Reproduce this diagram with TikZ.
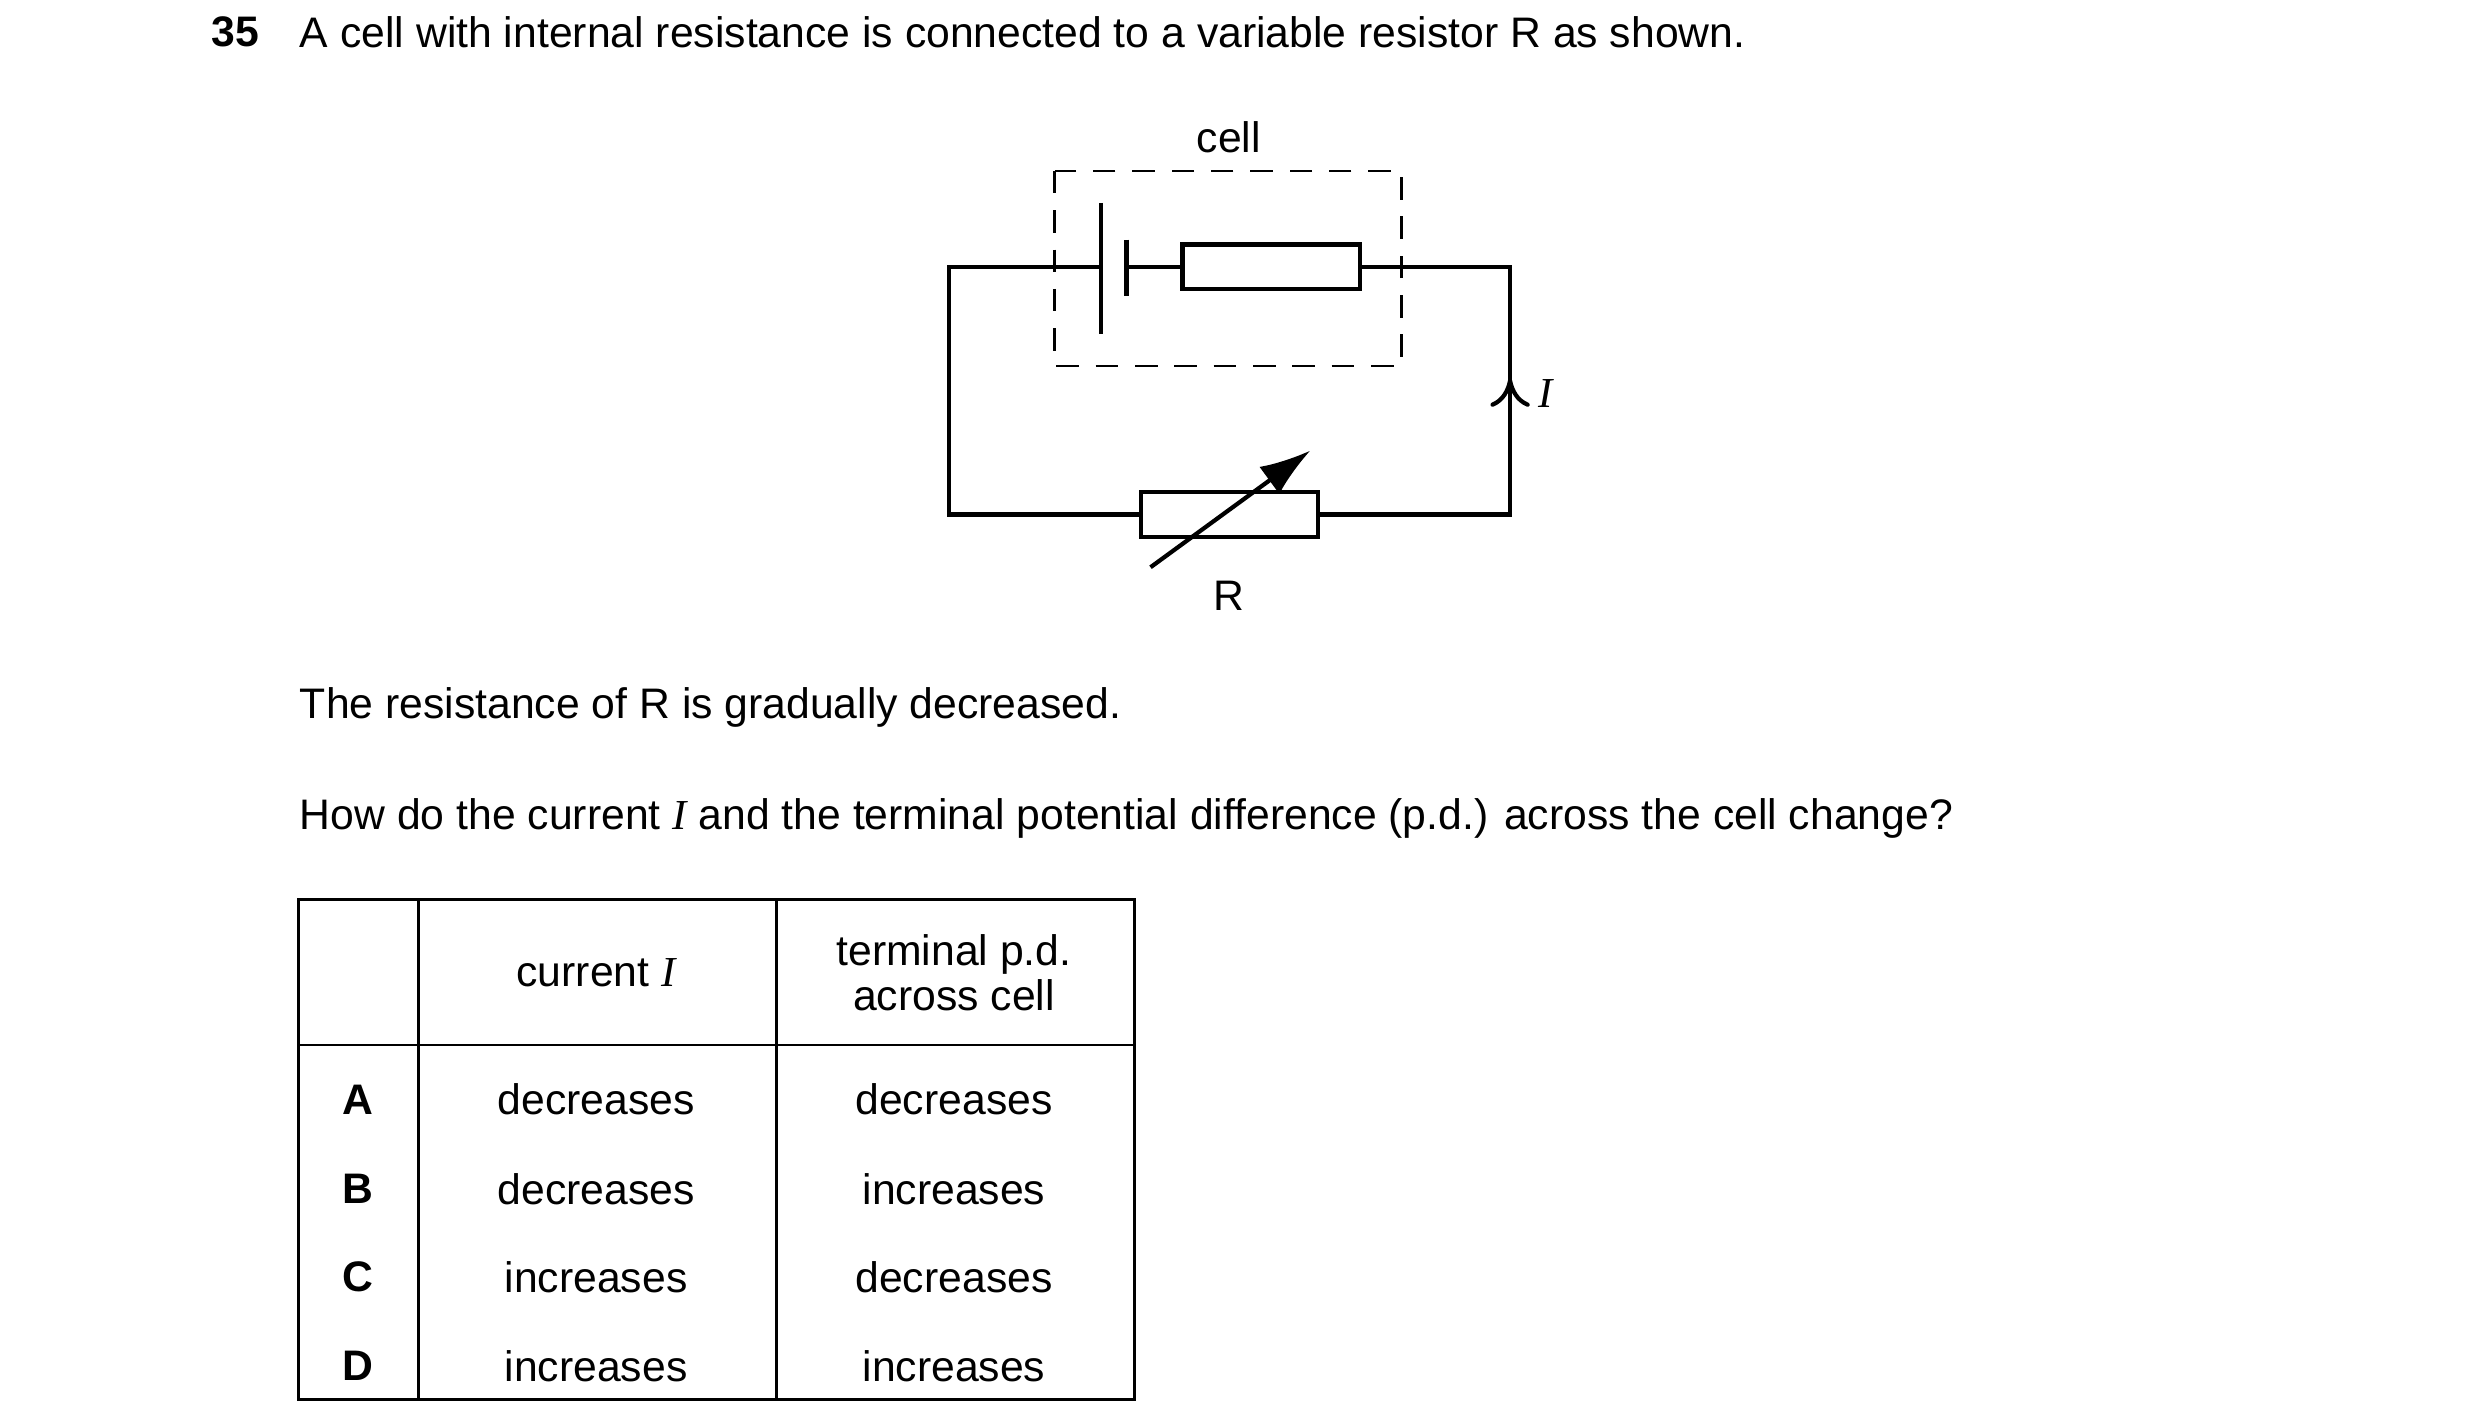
\documentclass[tikz,border=0pt]{standalone}
\usepackage{fontspec}
\setmainfont{Liberation Sans}
\newfontfamily\mathserif{Liberation Serif}
\usetikzlibrary{positioning}
\usetikzlibrary{arrows.meta}
\newcommand{\cur}{{\mathserif\itshape I}}
\begin{document}
\begin{tikzpicture}[x=0.01cm, y=-0.01cm, font=\fontsize{7.6}{9}\selectfont]
            % Set primary styles
            \tikzset{
                wire/.style={
                        line width=0.75pt
                    }
            }
            \tikzset{
                resistorNode/.style={
                        draw,
                        rectangle,
                        line width=0.75pt,
                        fill=white,
                        minimum width=1.11cm,
                        minimum height=0.28cm,
                        inner sep=0pt
                    }
            }
            \tikzset{
                textNode/.style={
                        anchor=west,
                        inner sep=0pt
                    }
            }
            \tikzset{
                cellText/.style={
                        inner sep=0pt,
                        align=center
                    }
            }
            \useasboundingbox (0,0) rectangle (1552,892);
            % Question text
            \node[textNode, font=\fontsize{7.6}{9}\selectfont\bfseries, anchor=east](num) at (163,20){35};
            \node[textNode](intro) at (187,20){A cell with internal resistance is connected to a variable resistor R as shown.};
            % Circuit nodes
            \coordinate (tl) at (594,167);
            \coordinate (tr) at (945,167);
            \coordinate (bl) at (594,322);
            \coordinate (br) at (945,322);
            \coordinate (plusTop) at (689,127);
            \coordinate (plusBot) at (689,209);
            \coordinate (minusTop) at (705,150);
            \coordinate (minusBot) at (705,185);
            \node[resistorNode](rint) at (795.5,167){};
            \node[resistorNode](rvar) at (769.5,322){};
            \node[cellText](cellLabel) at (769,86){cell};
            \node[cellText](rLabel) at (769,373){R};
            \node[cellText](iLabel) at (967,246){\cur};
            \coordinate (arrowTail) at (945,262);
            \coordinate (arrowTip) at (945,237);
            \coordinate (slideStart) at (720,355);
            \coordinate (slideEnd) at (820,282);
            % Draw wires
            \draw[wire] (plusTop) -- (plusBot);
            \draw[wire] (minusTop) -- (minusBot);
            \draw[wire] (plusTop |- tl) -- (tl) -- (bl) -- (rvar.west);
            \draw[wire] (rvar.east) -- (br) -- (tr) -- (rint.east);
            \draw[wire] (minusTop |- tl) -- (rint.west);
            \draw[line width=0.5pt, dash pattern=on 4pt off 3pt] (660,107) rectangle (877,229);
            \draw[wire, -{To[length=5pt,width=7pt]}] (arrowTail) -- (arrowTip);
            \draw[wire, -{Latex[length=9pt,width=6pt]}] (slideStart) -- (slideEnd);
            % Further text
            \node[textNode](line2) at (187,443){The resistance of R is gradually decreased.};
            \node[textNode](line3) at (187,512){How do the current \cur{} and the terminal potential difference (p.d.) across the cell change?};
            % Table
            \draw[line width=0.5pt] (187,563) rectangle (710,876);
            \draw[line width=0.5pt] (262,563) -- (262,876);
            \draw[line width=0.5pt] (486,563) -- (486,876);
            \draw[line width=0.5pt] (187,654) -- (710,654);
            \node[cellText](hCur) at (373,609){current \cur};
            \node[cellText](hPd) at (597,609){terminal p.d.\\[-1pt]across cell};
            \foreach \y/\lab/\cI/\cV in {688/A/decreases/decreases, 744/B/decreases/increases, 799/C/increases/decreases, 855/D/increases/increases}{
                \node[cellText, font=\fontsize{7.6}{9}\selectfont\bfseries](row\lab) at (224,\y){\lab};
                \node[cellText](cur\lab) at (373,\y){\cI};
                \node[cellText](pd\lab) at (597,\y){\cV};
            }
        \end{tikzpicture}
\end{document}
